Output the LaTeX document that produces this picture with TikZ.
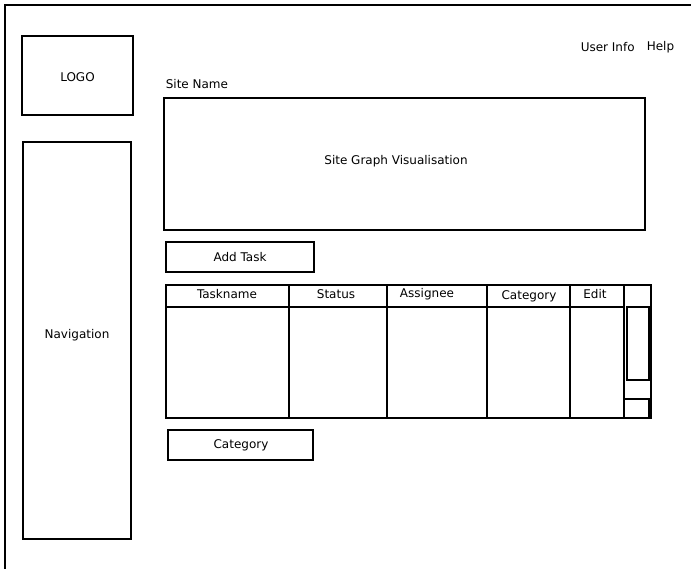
\documentclass[tikz,border=0pt]{standalone}
\usepackage{fontspec}
\setmainfont{DejaVu Sans}
\begin{document}
\begin{tikzpicture}[x=1pt,y=-1pt,
  line width=1.6pt,
  lbl/.style={font=\fontsize{12}{14}\selectfont, inner sep=0pt},
  frame/.style={draw=black, line width=1.6pt}]
\useasboundingbox (0,0) rectangle (691,568);
% outer page frame (continues past the visible area)
\draw[line width=1.3pt] (5,575) -- (5,5) -- (700,5);

% logo and navigation column
\draw[frame] (22,36) rectangle (133,115);
\node[lbl] (logo) at (77.5,77) {LOGO};
\draw[frame] (23,142) rectangle (131,539);
\node[lbl] (nav) at (77,335) {Navigation};

% header texts
\node[lbl, anchor=west] (sitename) at (165,84) {Site Name};
\node[lbl, anchor=west] (userinfo) at (580,47) {User Info};
\node[lbl, anchor=west] (help) at (646,47) {Help};

% site graph area
\draw[frame] (164,98) rectangle (645,230);
\node[lbl] (graph) at (396,161) {Site Graph Visualisation};

% add task button
\draw[frame] (166,242) rectangle (314,272);
\node[lbl] (addtask) at (240,257) {Add Task};

% task table
\draw[frame] (166,285) rectangle (651,418);
\draw[frame] (166,307) -- (624,307);
\draw[frame] (289,285) -- (289,418);
\draw[frame] (387,285) -- (387,418);
\draw[frame] (487,285) -- (487,418);
\draw[frame] (570,285) -- (570,418);
\draw[frame] (624,285) -- (624,418);
\node[lbl] (h1) at (227,294) {Taskname};
\node[lbl] (h2) at (336,294) {Status};
\node[lbl] (h3) at (427,294) {Assignee};
\node[lbl] (h4) at (529,296) {Category};
\node[lbl] (h5) at (595,294) {Edit};
% scroll bar
\draw[frame] (627,307) rectangle (649,380);
\draw[frame] (624,399) rectangle (649,418);

% category button
\draw[frame] (168,430) rectangle (313,460);
\node[lbl] (category) at (241,445) {Category};
\end{tikzpicture}
\end{document}
